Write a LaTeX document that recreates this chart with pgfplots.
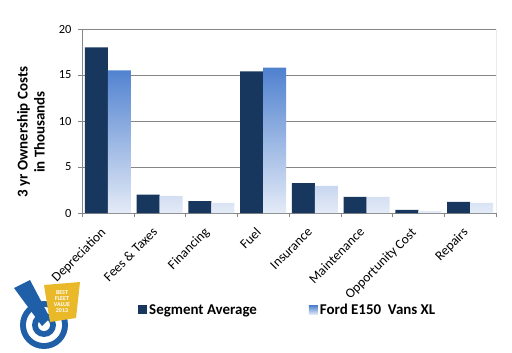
\documentclass[border=0pt]{standalone}
\usepackage{pgfplots}
\pgfplotsset{compat=1.18}
\usepackage{fontspec}
\setmainfont{Carlito}
\definecolor{segdark}{HTML}{17375E}
\definecolor{fordtop}{HTML}{4F81CF}
\definecolor{fordbot}{HTML}{E4EBF7}
\definecolor{gridgray}{HTML}{868686}
\definecolor{logoblue}{HTML}{1F5FA8}
\definecolor{logoyellow}{HTML}{E9B92A}
\begin{document}
\begin{tikzpicture}
\useasboundingbox (0bp,0bp) rectangle (512bp,-353bp);
% logo approximation
\begin{scope}[x=1bp,y=1bp]
\fill[logoblue] (44,-325) circle (24);
\fill[white] (44,-325) circle (18);
\fill[logoblue] (44,-325) circle (12);
\fill[white] (44,-325) circle (6);
\fill[logoblue] (14,-288) -- (30,-280) -- (50,-318) -- (42,-326) -- cycle;
\fill[logoyellow] (44,-285) -- (80,-282) -- (76,-318) -- (50,-322) -- cycle;
\node[white,font=\bfseries\fontsize{6}{6}\selectfont,align=center,inner sep=0] at (62,-302) {BEST\\FLEET\\VALUE\\2013};
\draw[fordbot!70!gridgray!40, line width=1pt] (496,-29) -- (496,-213);
\end{scope}
\begin{axis}[
  at={(82bp,-213bp)}, anchor=south west,
  scale only axis, width=414bp, height=184bp,
  xmin=-0.5, xmax=7.5, ymin=0, ymax=20,
  ytick={0,5,10,15,20},
  xtick={0,...,7},
  xticklabels={Depreciation,Fees \& Taxes,Financing,Fuel,Insurance,Maintenance,Opportunity Cost,Repairs},
  minor xtick={-0.5,0.5,...,7.5},
  major x tick style={draw=none},
  x tick label style={xshift=-8bp, yshift=-8bp, rotate=45, anchor=north east, font=\fontsize{13.5}{16}\selectfont, inner sep=1pt},
  y tick label style={font=\fontsize{12.5}{14}\selectfont, xshift=-3bp},
  /pgf/number format/assume math mode=true,
  tick align=outside, tick pos=left,
  minor tick length=4bp, major tick length=4bp,
  every tick/.style={gridgray},
  ymajorgrids, grid style={gridgray, line width=0.8pt},
  axis line style={gridgray},
  axis x line*=bottom, axis y line*=left,
  ylabel={\bfseries\begin{tabular}{c}3 yr Ownership Costs\\in Thousands\end{tabular}},
  ylabel style={font=\fontsize{15}{17}\selectfont, at={(axis description cs:-0.119,0.44)}, anchor=center},
  ybar=0pt, bar width=23bp,
  legend style={draw=none, fill=none, at={(0.497,-0.527)}, anchor=center, legend columns=2,
    font=\bfseries\fontsize{15}{18}\selectfont,
    /tikz/every even column/.append style={column sep=50bp}},
  legend image code/.code={\fill[#1] (0bp,-4.5bp) rectangle (9bp,4.5bp);},
]
\addplot[fill=segdark, draw=none] coordinates {(0,18.0) (1,2.0) (2,1.3) (3,15.4) (4,3.25) (5,1.75) (6,0.33) (7,1.2)};
\addplot[top color=fordtop, bottom color=fordbot, draw=none] coordinates {(0,15.5) (1,1.85) (2,1.1) (3,15.8) (4,2.95) (5,1.75) (6,0.2) (7,1.1)};
\legend{Segment Average,Ford E150\ \ Vans XL}
\end{axis}
\end{tikzpicture}
\end{document}
